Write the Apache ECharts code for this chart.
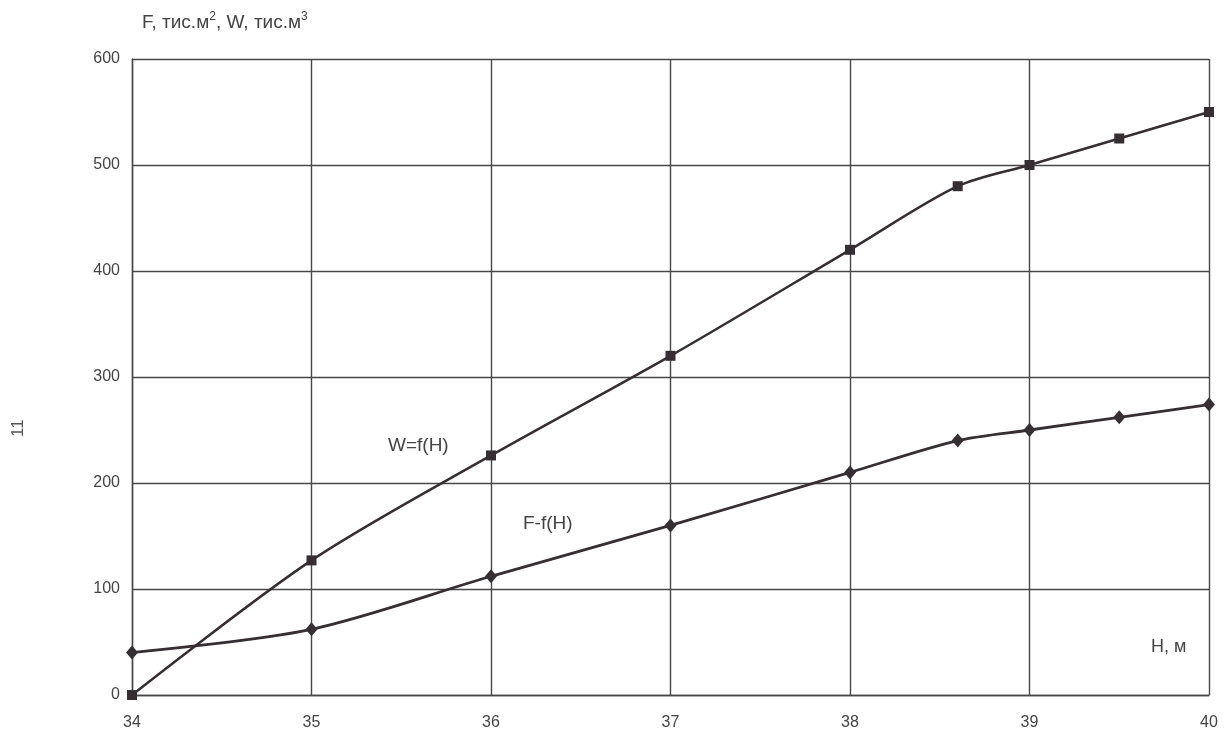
<!DOCTYPE html>
<html>
<head>
<meta charset="utf-8">
<script src="https://cdn.jsdelivr.net/npm/echarts@6/dist/echarts.min.js"></script>
<style>
html,body{margin:0;padding:0;background:#fff;}
#c{width:1232px;height:733px;}
</style>
</head>
<body>
<div id="c"></div>
<script>
const wH = [34, 35, 36, 37, 38, 38.6, 39, 39.5, 40];
const wVal = [0, 127, 226, 320, 420, 480, 500, 525, 550];
const fH = [34, 35, 36, 37, 38, 38.6, 39, 39.5, 40];
const fVal = [40, 62, 112, 160, 210, 240, 250, 262, 274];
const xTicks = [34, 35, 36, 37, 38, 39, 40];
const yTicks = [0, 100, 200, 300, 400, 500, 600];

const lineColor = '#352e32';
const gridColor = '#474747';
const textColor = '#444';
const font = 'Liberation Sans, Arial, sans-serif';

const chart = echarts.init(document.getElementById('c'));
chart.setOption({
  backgroundColor: '#fff',
  animation: false,
  grid: {left: 132, right: 23, top: 59, bottom: 38},
  xAxis: {
    type: 'value', min: xTicks[0], max: xTicks[xTicks.length - 1], interval: 1,
    axisLine: {show: true, lineStyle: {color: gridColor, width: 1.4}},
    axisTick: {show: false},
    axisLabel: {color: textColor, fontSize: 16, fontFamily: font, margin: 20},
    splitLine: {show: true, lineStyle: {color: gridColor, width: 1.4}}
  },
  yAxis: {
    type: 'value', min: yTicks[0], max: yTicks[yTicks.length - 1], interval: 100,
    axisLine: {show: true, lineStyle: {color: gridColor, width: 1.4}},
    axisTick: {show: false},
    axisLabel: {color: textColor, fontSize: 16, fontFamily: font, margin: 12},
    splitLine: {show: true, lineStyle: {color: gridColor, width: 1.4}}
  },
  series: [
    {
      name: 'W', type: 'line', smooth: 0.3,
      data: wH.map((h, i) => [h, wVal[i]]),
      symbol: 'rect', symbolSize: 10,
      lineStyle: {color: lineColor, width: 2.5},
      itemStyle: {color: lineColor}
    },
    {
      name: 'F', type: 'line', smooth: 0.3,
      data: fH.map((h, i) => [h, fVal[i]]),
      symbol: 'diamond', symbolSize: [12, 14],
      lineStyle: {color: lineColor, width: 2.8},
      itemStyle: {color: lineColor}
    }
  ],
  graphic: [
    {type: 'text', left: 142, top: 11, style: {
      text: '{a|F, тис.м}{s|2}{a|, W, тис.м}{s|3}',
      rich: {
        a: {fontSize: 19, fontFamily: font, fill: textColor},
        s: {fontSize: 12, fontFamily: font, fill: textColor, padding: [0, 0, 11, 0]}
      }
    }},
    {type: 'text', left: 388, top: 436, style: {text: 'W=f(H)', fontSize: 19, fontFamily: font, fill: textColor}},
    {type: 'text', left: 523, top: 514, style: {text: 'F-f(H)', fontSize: 19, fontFamily: font, fill: textColor}},
    {type: 'text', left: 1151, top: 638, style: {text: 'H, м', fontSize: 18, fontFamily: font, fill: textColor}},
    {type: 'text', x: 10, y: 437, rotation: Math.PI / 2, style: {text: '11', fontSize: 17, fontFamily: font, fill: '#555'}}
  ]
});
</script>
</body>
</html>
